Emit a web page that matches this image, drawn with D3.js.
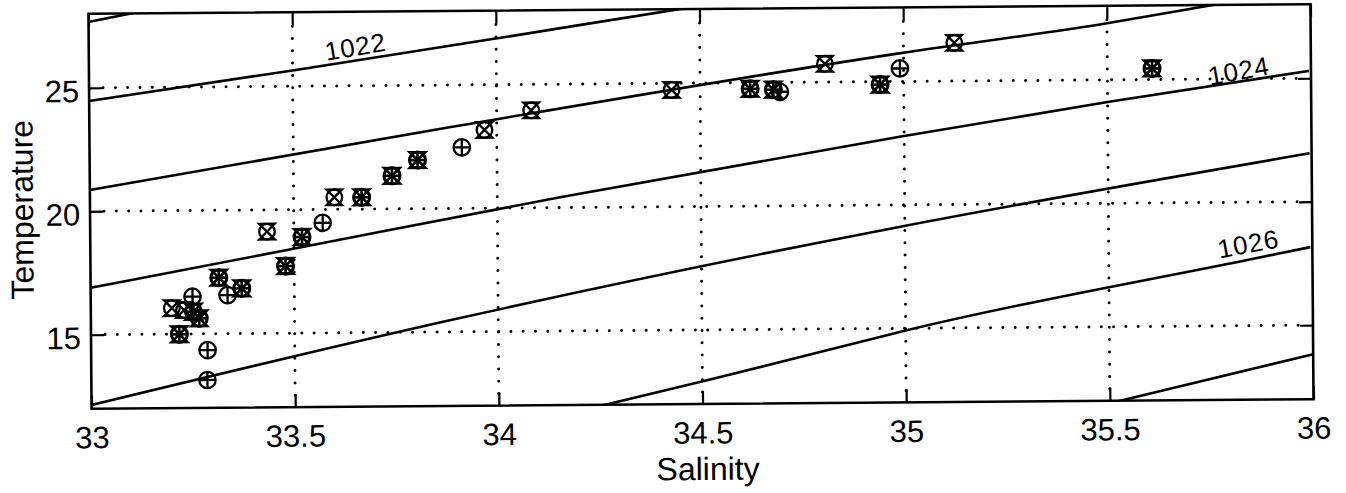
<!DOCTYPE html>
<html>
<head>
<meta charset="utf-8">
<script src="https://cdn.jsdelivr.net/npm/d3@7"></script>
<style>
html,body{margin:0;padding:0;background:#fff;}
svg{display:block;}
</style>
</head>
<body>
<svg id="chart" width="1346" height="493"></svg>
<script>
// ---------- data ----------
const salinityTicks = [33, 33.5, 34, 34.5, 35, 35.5, 36];
const tempTicks = [15, 20, 25];

// circle-with-cross markers  [salinity, temperature]
const crossMarkers = [
  [33.199, 16.05], [33.229, 15.97], [33.434, 19.12], [33.600, 20.49],
  [33.970, 23.17], [34.085, 23.95], [34.430, 24.73], [34.807, 25.74],
  [35.125, 26.55]
];
// circle-with-plus markers
const plusMarkers = [
  [33.250, 16.51], [33.286, 14.34], [33.285, 13.13], [33.336, 16.56],
  [33.571, 19.46], [33.914, 22.47], [34.696, 24.62], [34.991, 25.53]
];
// samples where both symbols coincide
const bothMarkers = [
  [33.217, 14.99], [33.252, 15.90], [33.266, 15.63], [33.315, 17.27],
  [33.371, 16.83], [33.479, 17.72], [33.520, 18.89], [33.667, 20.48],
  [33.742, 21.34], [33.805, 21.97], [34.623, 24.75], [34.680, 24.71],
  [34.942, 24.88], [35.610, 25.45]
];

// density contours (kg/m^3)  [salinity, temperature]
const iso1021 = [[33.000, 27.67], [33.110, 28.02], [33.140, 28.12]];
const iso1022 = [[33.000, 24.47], [33.508, 25.66], [34.012, 26.90], [34.450, 28.00], [34.500, 28.12]];
const iso1023 = [[33.000, 20.86], [33.884, 23.29], [34.989, 26.14], [35.504, 27.30], [35.757, 27.99], [35.800, 28.10]];
const iso1024 = [[33.000, 16.90], [33.483, 18.37], [34.154, 20.42], [34.989, 22.76], [35.504, 24.11], [35.995, 25.30]];
const iso1025 = [[33.000, 12.15], [33.884, 15.48], [34.989, 19.12], [35.995, 21.96]];
const iso1026 = [[34.230, 11.88], [34.514, 12.97], [34.890, 14.47], [35.000, 14.91], [35.840, 17.66], [35.995, 18.16]];
const iso1027 = [[35.500, 11.90], [35.533, 12.03], [36.000, 13.82]];
const isoLines = [iso1021, iso1022, iso1023, iso1024, iso1025, iso1026, iso1027];

// contour labels  [text], [salinity, temperature], angle
const isoLabelText = ["1022", "1024", "1026"];
const isoLabelPos = [[33.655, 26.58], [35.823, 25.32], [35.843, 18.31]];
const isoLabelAngle = [-9, -10, -10];

// ---------- layout ----------
const plot = {left: 90, right: 1312, top: 9, bottom: 404};
const tilt = -0.45;
const FONT = "'Liberation Sans', Arial, Helvetica, sans-serif";

const svg = d3.select("#chart");
const x = d3.scaleLinear().domain([33, 36]).range([plot.left, plot.right]);
const y = d3.scaleLinear().domain([12, 28]).range([plot.bottom, plot.top]);
const cx = (plot.left + plot.right) / 2, cy = (plot.top + plot.bottom) / 2;

const g = svg.append("g").attr("transform", `rotate(${tilt},${cx},${cy})`);

g.append("defs").append("clipPath").attr("id", "plotclip")
  .append("rect")
  .attr("x", plot.left).attr("y", plot.top)
  .attr("width", plot.right - plot.left).attr("height", plot.bottom - plot.top);

// ---------- dotted grid ----------
const grid = g.append("g")
  .attr("stroke", "#000").attr("stroke-width", 3)
  .attr("stroke-linecap", "round").attr("stroke-dasharray", "0,12.3");
grid.selectAll("line.h").data(tempTicks).join("line").attr("class", "h")
  .attr("x1", plot.left + 14).attr("x2", plot.right - 10)
  .attr("y1", d => y(d)).attr("y2", d => y(d));
grid.selectAll("line.v").data(salinityTicks.filter(d => d > 33 && d < 36)).join("line").attr("class", "v")
  .attr("x1", d => x(d)).attr("x2", d => x(d))
  .attr("y1", plot.top + 14).attr("y2", plot.bottom - 10);

// ---------- density contours ----------
const lineGen = d3.line().x(d => x(d[0])).y(d => y(d[1])).curve(d3.curveMonotoneX);
g.append("g").attr("clip-path", "url(#plotclip)")
  .selectAll("path").data(isoLines).join("path")
  .attr("d", lineGen)
  .attr("fill", "none").attr("stroke", "#000").attr("stroke-width", 2.6);

// contour labels
g.append("g").selectAll("text").data(isoLabelText).join("text")
  .attr("transform", (d, i) => `translate(${x(isoLabelPos[i][0])},${y(isoLabelPos[i][1])}) rotate(${isoLabelAngle[i]})`)
  .attr("text-anchor", "middle").attr("dominant-baseline", "central")
  .attr("font-family", FONT).attr("font-size", 26).attr("letter-spacing", 1)
  .attr("fill", "#000")
  .text(d => d);

// ---------- markers ----------
const R = 7.8;
function drawCross(sel) {
  sel.append("circle").attr("r", R);
  sel.append("path").attr("d", `M${-R},${-R}H${R}L${-R},${R}H${R}Z`);
}
function drawPlus(sel) {
  sel.append("circle").attr("r", R + 0.4);
  sel.append("path").attr("d", `M${-R - 0.4},0H${R + 0.4}M0,${-R - 0.4}V${R + 0.4}`);
}
const mk = g.append("g").attr("fill", "none").attr("stroke", "#000").attr("stroke-width", 2.3);
mk.selectAll("g.cross").data(crossMarkers).join("g").attr("class", "cross")
  .attr("transform", d => `translate(${x(d[0])},${y(d[1])})`).call(drawCross);
mk.selectAll("g.plus").data(plusMarkers).join("g").attr("class", "plus")
  .attr("transform", d => `translate(${x(d[0])},${y(d[1])})`).call(drawPlus);
const both = mk.selectAll("g.both").data(bothMarkers).join("g").attr("class", "both")
  .attr("transform", d => `translate(${x(d[0])},${y(d[1])})`).attr("stroke-width", 2.6);
both.call(drawCross);
both.call(drawPlus);

// ---------- axes ----------
function styleAxis(a) {
  a.select(".domain").remove();
  a.selectAll(".tick line").attr("stroke", "#000").attr("stroke-width", 2.2);
  a.attr("font-family", FONT).attr("font-size", 31);
  a.selectAll("text").attr("fill", "#000");
}
const axB = g.append("g").attr("transform", `translate(0,${plot.bottom})`)
  .call(d3.axisBottom(x).tickValues(salinityTicks).tickSize(-13).tickSizeOuter(0).tickFormat(d => String(d)));
styleAxis(axB);
axB.selectAll("text").attr("y", 39.5).attr("dy", null);

const axT = g.append("g").attr("transform", `translate(0,${plot.top})`)
  .call(d3.axisTop(x).tickValues(salinityTicks).tickSize(-13).tickSizeOuter(0).tickFormat(""));
styleAxis(axT);

const axL = g.append("g").attr("transform", `translate(${plot.left},0)`)
  .call(d3.axisLeft(y).tickValues(tempTicks).tickSize(-13).tickSizeOuter(0).tickFormat(d => String(d)));
styleAxis(axL);
axL.selectAll("text").attr("x", -10).attr("y", 13.6).attr("dy", null);

const axR = g.append("g").attr("transform", `translate(${plot.right},0)`)
  .call(d3.axisRight(y).tickValues(tempTicks).tickSize(-13).tickSizeOuter(0).tickFormat(""));
styleAxis(axR);

// frame
g.append("rect")
  .attr("x", plot.left).attr("y", plot.top)
  .attr("width", plot.right - plot.left).attr("height", plot.bottom - plot.top)
  .attr("fill", "none").attr("stroke", "#000").attr("stroke-width", 2.6);

// axis titles
g.append("text")
  .attr("x", cx + 5).attr("y", 480)
  .attr("text-anchor", "middle")
  .attr("font-family", FONT).attr("font-size", 32).attr("fill", "#000")
  .text("Salinity");
g.append("text")
  .attr("transform", `translate(33,${cy - 2}) rotate(-90)`)
  .attr("text-anchor", "middle")
  .attr("font-family", FONT).attr("font-size", 32).attr("fill", "#000")
  .text("Temperature");
</script>
</body>
</html>
